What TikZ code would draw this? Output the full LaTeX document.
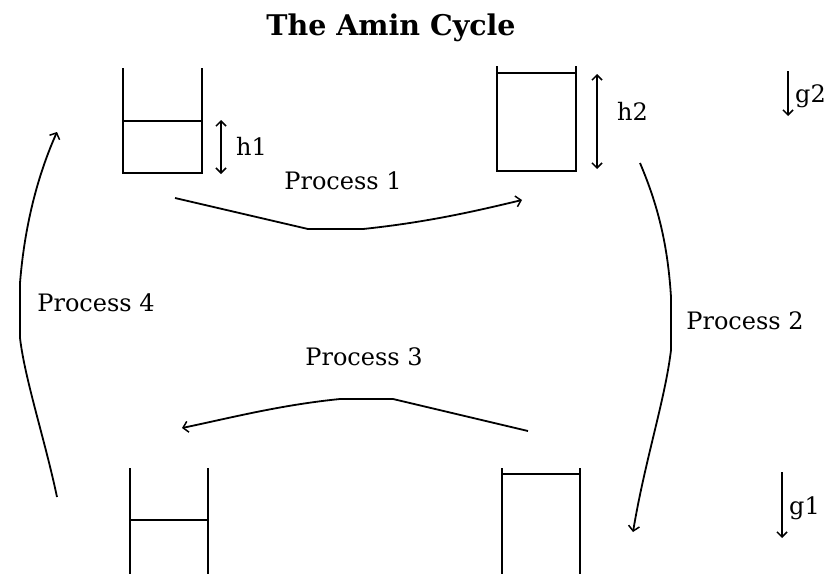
\documentclass[tikz,border=0pt]{standalone}
\usepackage{fontspec}
\setmainfont{DejaVu Serif}
\usetikzlibrary{arrows.meta}
\tikzset{
  lbl/.style={inner sep=0pt, font=\fontsize{24}{27}\selectfont},
  ttl/.style={inner sep=0pt, font=\fontsize{28.5}{31}\selectfont\bfseries},
  vessel/.style={line width=2.3pt, line cap=rect},
  proc/.style={line width=1.8pt, -{Straight Barb[length=5pt,width=11pt,line width=1.5pt]}},
  meas/.style={line width=1.8pt, {Straight Barb[length=5pt,width=10pt,line width=1.5pt]}-{Straight Barb[length=5pt,width=10pt,line width=1.5pt]}},
  grav/.style={line width=1.8pt, -{Straight Barb[length=5pt,width=10pt,line width=1.5pt]}}
}
\begin{document}
\begin{tikzpicture}[x=1pt,y=-1pt]
\useasboundingbox (0,0) rectangle (827,573);
% title
\node[ttl] (title) at (391,28) {The Amin Cycle};
% top-left vessel
\draw[vessel] (123,69) -- (123,173) -- (202,173) -- (202,69);
\draw[vessel] (123,121) -- (202,121);
\coordinate (h1t) at (221,120); \coordinate (h1b) at (221,174);
\draw[meas] (h1t) -- (h1b);
\node[lbl,anchor=west] (h1) at (236,146) {h1};
% top-right vessel
\draw[vessel] (497,67) -- (497,171) -- (576,171) -- (576,67);
\draw[vessel] (497,73) -- (576,73);
\coordinate (h2t) at (597,74); \coordinate (h2b) at (597,169);
\draw[meas] (h2t) -- (h2b);
\node[lbl,anchor=west] (h2) at (617,111) {h2};
% bottom-left vessel
\draw[vessel] (130,469) -- (130,575) (208,575) -- (208,469);
\draw[vessel] (130,520) -- (208,520);
% bottom-right vessel
\draw[vessel] (502,469) -- (502,575) (580,575) -- (580,469);
\draw[vessel] (502,474) -- (580,474);
% gravity
\coordinate (g2t) at (788,71); \coordinate (g2b) at (788,116);
\draw[grav] (g2t) -- (g2b);
\node[lbl,anchor=west] (g2) at (795,96) {g2};
\coordinate (g1t) at (782,472); \coordinate (g1b) at (782,538);
\draw[grav] (g1t) -- (g1b);
\node[lbl,anchor=west] (g1) at (789,508) {g1};
% Process 1
\coordinate (p1a) at (175,198); \coordinate (p1b) at (308,229);
\coordinate (p1c) at (363,229); \coordinate (p1d) at (522,200);
\draw[proc] (p1a) -- (p1b) -- (p1c) .. controls (430,222) and (480,210) .. (p1d);
\node[lbl] (P1) at (343,181) {Process 1};
% Process 3
\coordinate (p3a) at (528,431); \coordinate (p3b) at (393,399);
\coordinate (p3c) at (340,399); \coordinate (p3d) at (182,428);
\draw[proc] (p3a) -- (p3b) -- (p3c) .. controls (280,405) and (230,418) .. (p3d);
\node[lbl] (P3) at (364,357) {Process 3};
% Process 2
\coordinate (p2a) at (640,163); \coordinate (p2b) at (671,297);
\coordinate (p2c) at (671,350); \coordinate (p2d) at (633,532);
\draw[proc] (p2a) .. controls (660,210) and (668,250) .. (p2b) -- (p2c) .. controls (665,400) and (645,460) .. (p2d);
\node[lbl] (P2) at (745,321) {Process 2};
% Process 4
\coordinate (p4a) at (57,497); \coordinate (p4b) at (20,338);
\coordinate (p4c) at (20,283); \coordinate (p4d) at (57,132);
\draw[proc] (p4a) .. controls (45,440) and (25,380) .. (p4b) -- (p4c) .. controls (25,220) and (40,170) .. (p4d);
\node[lbl] (P4) at (96,303) {Process 4};
\end{tikzpicture}
\end{document}
